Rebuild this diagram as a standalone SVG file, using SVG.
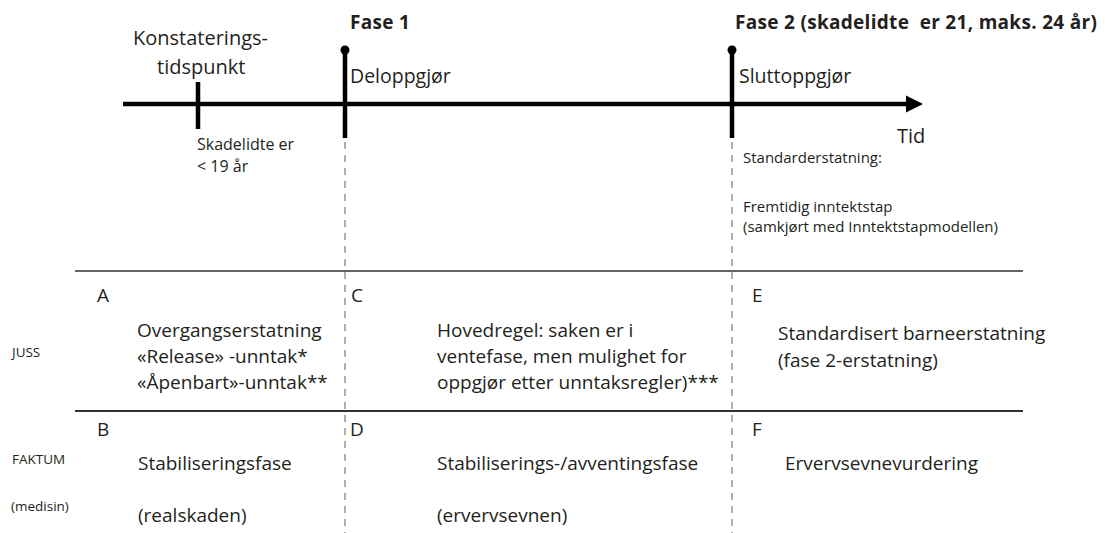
<svg xmlns="http://www.w3.org/2000/svg" width="1105" height="533" viewBox="0 0 1105 533">
<style>
text{font-family:"Open Sans","Noto Sans",sans-serif;fill:#231f20}
.b{font-size:19px}
.t{font-size:19.5px}
.h{font-size:19px;font-weight:bold;letter-spacing:0.3px}
.s{font-size:15px}
.m{font-size:16px}
.xs{font-size:13.5px}
.thick{stroke:#000;stroke-width:4.5;fill:none}
.dash{stroke:#9a9a9a;stroke-width:1.6;stroke-dasharray:7 6;fill:none}
.rule{stroke:#333;stroke-width:1.6}
</style>
<rect width="1105" height="533" fill="#fff"/>
<g id="connectors">
<line class="thick" x1="123" y1="104" x2="908" y2="104"/>
<polygon points="906,95.5 923,104 906,112.5" fill="#000"/>
<line class="thick" x1="198" y1="82" x2="198" y2="129"/>
<line class="thick" x1="345" y1="50" x2="345" y2="138"/>
<circle cx="345" cy="50" r="4.5" fill="#000"/>
<line class="thick" x1="732" y1="50" x2="732" y2="138"/>
<circle cx="732" cy="50" r="4.5" fill="#000"/>
<line class="dash" x1="345" y1="142" x2="345" y2="533"/>
<line class="dash" x1="732" y1="142" x2="732" y2="533"/>
<line class="rule" x1="75" y1="271" x2="1023" y2="271"/>
<line class="rule" x1="75" y1="411" x2="1023" y2="411" style="stroke-width:2"/>
</g>
<g id="timeline-labels">
<text x="133" y="45" style="font-size:20px">Konstaterings-</text>
<text x="157" y="74" style="font-size:20px">tidspunkt</text>
<text class="m" x="197" y="150">Skadelidte er</text>
<text class="m" x="197" y="172">&lt; 19 år</text>
<text class="h" x="350" y="29">Fase 1</text>
<text class="t" x="350" y="83">Deloppgjør</text>
<text class="h" x="735" y="29" xml:space="preserve">Fase 2 (skadelidte  er 21, maks. 24 år)</text>
<text class="t" x="739" y="83">Sluttoppgjør</text>
<text x="897" y="143" style="font-size:20px">Tid</text>
<text class="s" x="743" y="163">Standarderstatning:</text>
<text class="s" x="743" y="212">Fremtidig inntektstap</text>
<text class="s" x="743" y="232">(samkjørt med Inntektstapmodellen)</text>
</g>
<g id="row-labels">
<text class="xs" x="12" y="357">JUSS</text>
<text class="xs" x="12" y="464">FAKTUM</text>
<text class="xs" x="11" y="511">(medisin)</text>
</g>
<g id="cell-A">
<text class="b" x="97" y="302">A</text>
<text class="b" x="137" y="337">Overgangserstatning</text>
<text class="b" x="137" y="363">«Release» -unntak*</text>
<text class="b" x="137" y="389">«Åpenbart»-unntak**</text>
</g>
<g id="cell-C">
<text class="b" x="351" y="302">C</text>
<text class="b" x="437" y="337">Hovedregel: saken er i</text>
<text class="b" x="437" y="363">ventefase, men mulighet for</text>
<text class="b" x="437" y="389">oppgjør etter unntaksregler)***</text>
</g>
<g id="cell-E">
<text class="b" x="752" y="302">E</text>
<text class="b" x="778" y="340">Standardisert barneerstatning</text>
<text class="b" x="778" y="367">(fase 2-erstatning)</text>
</g>
<g id="cell-B">
<text class="b" x="97" y="436">B</text>
<text class="b" x="138" y="470">Stabiliseringsfase</text>
<text class="b" x="138" y="522">(realskaden)</text>
</g>
<g id="cell-D">
<text class="b" x="350" y="436">D</text>
<text class="b" x="437" y="470">Stabiliserings-/avventingsfase</text>
<text class="b" x="437" y="522">(ervervsevnen)</text>
</g>
<g id="cell-F">
<text class="b" x="752" y="436">F</text>
<text class="b" x="785" y="470">Ervervsevnevurdering</text>
</g>
</svg>
